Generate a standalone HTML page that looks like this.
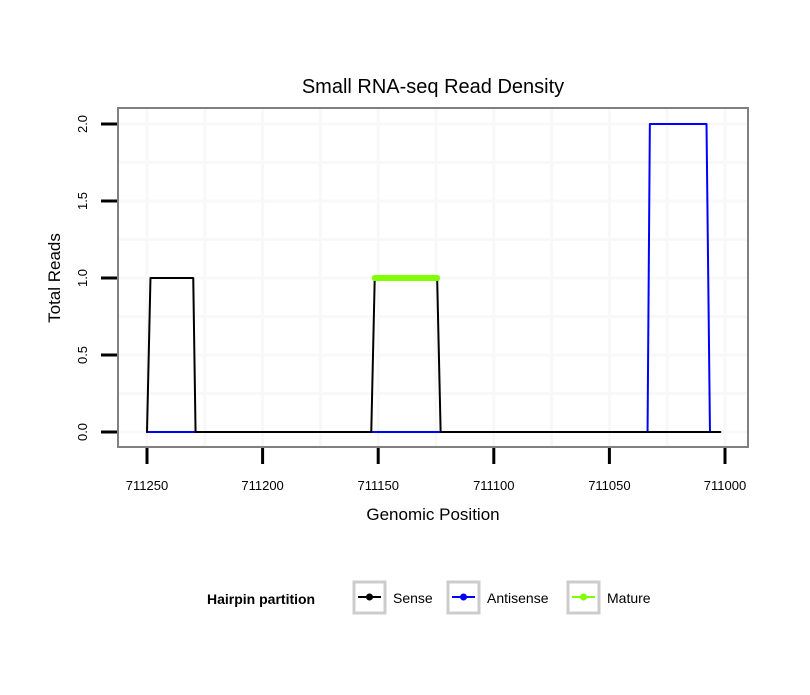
<!DOCTYPE html>
<html><head><meta charset="utf-8"><style>
body{margin:0;background:#fff}
svg text{font-family:"Liberation Sans",sans-serif}
</style></head><body>
<svg id="chart" width="810" height="690" viewBox="0 0 810 690">
<rect width="810" height="690" fill="#fff"/>
<text x="433" y="93" font-size="20" text-anchor="middle">Small RNA-seq Read Density</text>
<g id="grid"></g>
<g id="series"></g>
<rect x="118" y="108" width="630" height="339" fill="none" stroke="#808080" stroke-width="2"/>
<g id="axes"></g>
<text x="433" y="520" font-size="17" text-anchor="middle">Genomic Position</text>
<text transform="translate(60,278) rotate(-90)" font-size="17" text-anchor="middle">Total Reads</text>
<g>
<text x="207" y="604" font-size="14" font-weight="bold">Hairpin partition</text>
<g>
<rect x="354" y="582" width="31" height="31" fill="#fff" stroke="#ccc" stroke-width="3"/>
<line x1="358" y1="597" x2="381" y2="597" stroke="#000" stroke-width="2"/><circle cx="369.5" cy="597" r="3.5" fill="#000"/>
<text x="393" y="603" font-size="14">Sense</text></g>
<g>
<rect x="448" y="582" width="31" height="31" fill="#fff" stroke="#ccc" stroke-width="3"/>
<line x1="452" y1="597" x2="475" y2="597" stroke="#00f" stroke-width="2"/><circle cx="463.5" cy="597" r="3.5" fill="#00f"/>
<text x="487" y="603" font-size="14">Antisense</text></g>
<g>
<rect x="568" y="582" width="31" height="31" fill="#fff" stroke="#ccc" stroke-width="3"/>
<line x1="572" y1="597" x2="595" y2="597" stroke="#7fff00" stroke-width="2"/><circle cx="583.5" cy="597" r="3.5" fill="#7fff00"/>
<text x="607" y="603" font-size="14">Mature</text></g>
</g>
</svg>
<script>
const xTicks=[711250,711200,711150,711100,711050,711000];
const yTicks=[0,0.5,1,1.5,2];
const yTickLabels=["0.0","0.5","1.0","1.5","2.0"];
const senseX=[711250,711248.5,711230,711229,711153,711151.5,711124.5,711123,711002];
const senseY=[0,1,1,0,0,1,1,0,0];
const antiX=[711250,711033.5,711032.5,711008,711006.5];
const antiY=[0,0,2,2,0];
const matureX=[711151.5,711124.5];
const matureY=[1,1];
const NS="http://www.w3.org/2000/svg";
function sx(v){return 147+(711250-v)*(578/250);}
function sy(v){return 432-v*154;}
function el(t,a,p){const e=document.createElementNS(NS,t);for(const k in a)e.setAttribute(k,a[k]);document.getElementById(p).appendChild(e);return e;}
for(let v=711250;v>=710990;v-=25){if(sx(v)<118||sx(v)>748)continue;
 const g=el('line',{x1:sx(v),x2:sx(v),y1:109,y2:446,stroke:'#f8f8f8','stroke-width':3},'grid');
 
 }
for(let v=0;v<=2.1;v+=0.25){
 const g=el('line',{x1:119,x2:747,y1:sy(v),y2:sy(v),stroke:'#f8f8f8','stroke-width':3},'grid');
 
 }
function path(xs,ys,col,w,name){
 const d=xs.map((x,i)=>(i?'L':'M')+sx(x)+','+sy(ys[i])).join(' ');
 const p=el('path',{d:d,fill:'none',stroke:col,'stroke-width':w,'stroke-linecap':'round','stroke-linejoin':'round'},'series');
 
 }
path(antiX,antiY,'#00f',2,'antisense-line');
path(senseX,senseY,'#000',2,'sense-line');
path(matureX,matureY,'#7fff00',6,'mature-line');
xTicks.forEach(v=>{
 const t=el('line',{x1:sx(v),x2:sx(v),y1:448,y2:464,stroke:'#000','stroke-width':3},'axes');
 
 
 const l=el('text',{x:sx(v),y:490,'font-size':13,'text-anchor':'middle'},'axes');
 l.textContent=v;
 
 });
yTicks.forEach((v,i)=>{
 const t=el('line',{x1:101,x2:117,y1:sy(v),y2:sy(v),stroke:'#000','stroke-width':3},'axes');
 
 
 const l=el('text',{transform:'translate(87,'+sy(v)+') rotate(-90)','font-size':13,'text-anchor':'middle'},'axes');
 l.textContent=yTickLabels[i];
 
 });
</script>
</body></html>
